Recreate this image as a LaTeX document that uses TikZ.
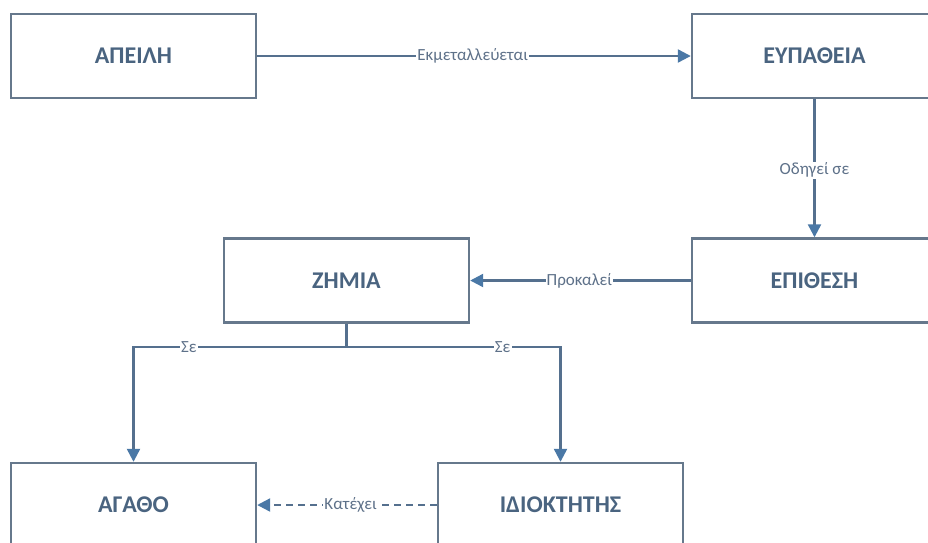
\documentclass[tikz,border=0pt]{standalone}
\usepackage{fontspec}
\setmainfont{Carlito}
\usetikzlibrary{arrows.meta}
\definecolor{boxline}{HTML}{66788C}
\definecolor{boxtext}{HTML}{4A6480}
\definecolor{conline}{HTML}{55708E}
\definecolor{tipfill}{HTML}{4A78A6}
\definecolor{labtext}{HTML}{5E7189}
\tikzset{
  entity/.style={draw=boxline, line width=2.4pt, fill=white, minimum width=245pt, minimum height=84pt, inner sep=0pt, font=\fontsize{24}{28}\selectfont\bfseries, text=boxtext},
  conn/.style={draw=conline, line width=2.3pt, -{Triangle[length=13pt,width=13pt,fill=tipfill,color=tipfill]}},
  lab/.style={fill=white, inner sep=1pt, font=\fontsize{17}{19}\selectfont, text=labtext},
}
\begin{document}
\begin{tikzpicture}[x=1pt,y=-1pt]
\useasboundingbox (0,0) rectangle (928,542);
\clip (0,0) rectangle (928,542);
\node[entity] (apeili) at (133.5,56) {ΑΠΕΙΛΗ};
\node[entity] (eypatheia) at (814.5,56) {ΕΥΠΑΘΕΙΑ};
\node[entity] (epithesi) at (814.5,280.5) {ΕΠΙΘΕΣΗ};
\node[entity] (zimia) at (346.5,280.5) {ΖΗΜΙΑ};
\node[entity] (agatho) at (133.5,505) {ΑΓΑΘΟ};
\node[entity] (idioktitis) at (560.5,505) {ΙΔΙΟΚΤΗΤΗΣ};
\draw[conn] (apeili) -- node[lab, pos=0.497]{Εκμεταλλεύεται} (eypatheia);
\draw[conn] (eypatheia) -- node[lab, pos=0.514]{Οδηγεί σε} (epithesi);
\draw[conn] (epithesi) -- node[lab, pos=0.505]{Προκαλεί} (zimia);
\coordinate (split) at ([yshift=-23pt]zimia.south);
\draw[conn] (zimia.south) -- (split) -| node[lab, pos=0.37]{Σε} (agatho.north);
\draw[conn] (split) -| node[lab, pos=0.365]{Σε} (idioktitis.north);
\draw[conn, dash pattern=on 7pt off 5pt] (idioktitis) -- node[lab, pos=0.48]{Κατέχει} (agatho);
\end{tikzpicture}
\end{document}
